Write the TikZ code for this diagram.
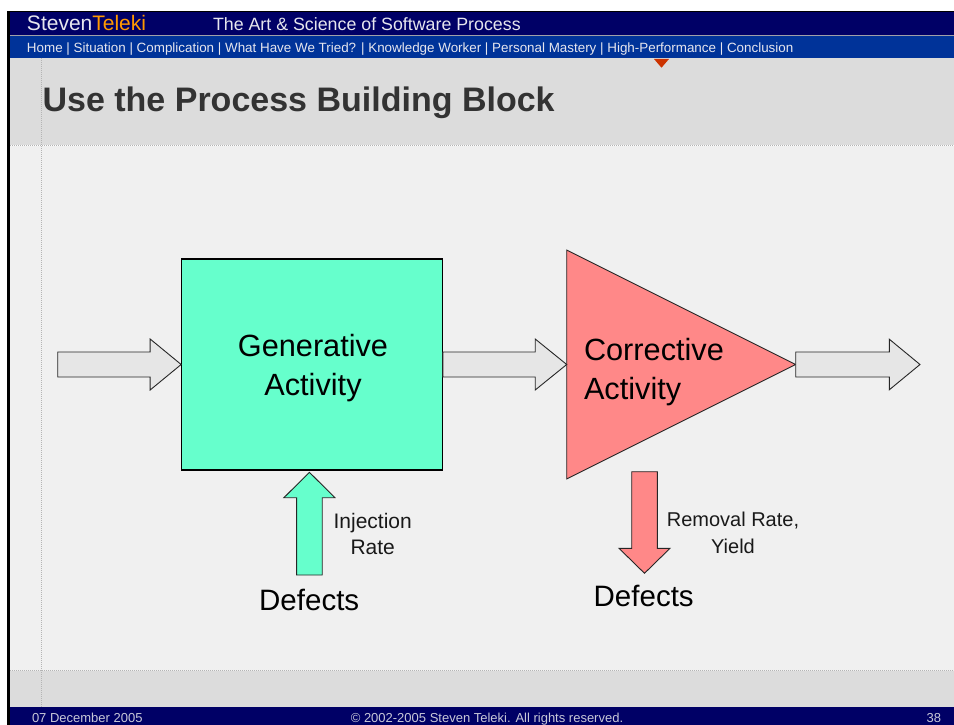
\documentclass[tikz,border=0pt]{standalone}
\usepackage{fontspec}
\setmainfont{Liberation Sans}
\usetikzlibrary{calc}
\definecolor{navy}{HTML}{000066}
\definecolor{navblue}{HTML}{003399}
\definecolor{titlegray}{HTML}{DCDCDC}
\definecolor{contentbg}{HTML}{F0F0F0}
\definecolor{dotgray}{HTML}{B4B4B4}
\definecolor{rulegray}{HTML}{A0A0A8}
\definecolor{arrowfill}{HTML}{E6E6E6}
\definecolor{genfill}{HTML}{66FFCC}
\definecolor{corfill}{HTML}{FF8888}
\definecolor{teleorange}{HTML}{FF9900}
\definecolor{markred}{HTML}{CC3300}
\definecolor{titletext}{HTML}{333333}
\definecolor{headtext}{HTML}{E6E6EE}
\definecolor{foottext}{HTML}{C8C8D8}
\newcommand\fsz[1]{\fontsize{#1}{#1}\selectfont}
\begin{document}
\begin{tikzpicture}[x=1pt,y=-1pt,
  lbl/.style={inner sep=0pt, outer sep=0pt},
  dotline/.style={draw=dotgray, line width=0.8pt, dash pattern=on 1pt off 1pt},
  barrow/.style n args={3}{draw=black!85, line width=0.9pt, line join=miter,
    to path={($(\tikztostart)!#1!90:(\tikztotarget)$)
      -- ($(\tikztotarget)!#3!(\tikztostart)!#1!90:(\tikztotarget)$)
      -- ($(\tikztotarget)!#3!(\tikztostart)!#2!90:(\tikztotarget)$)
      -- (\tikztotarget)
      -- ($(\tikztotarget)!#3!(\tikztostart)!#2!-90:(\tikztotarget)$)
      -- ($(\tikztotarget)!#3!(\tikztostart)!#1!-90:(\tikztotarget)$)
      -- ($(\tikztostart)!#1!-90:(\tikztotarget)$) -- cycle}},
  boxlbl/.style={lbl, font=\fsz{30.7}, text=black},
  smalllbl/.style={lbl, text=black!90},
]
\useasboundingbox (0,0) rectangle (954,725);
% page background
\fill[white] (0,0) rectangle (954,725);
\fill[black] (7,11) rectangle (10,725);
\fill[black] (7,11) rectangle (954,12.5);
\fill[navy] (10,12.5) rectangle (954,35);
\fill[rulegray] (10,35) rectangle (954,36.5);
\fill[navblue] (10,36.5) rectangle (954,58);
\fill[titlegray] (10,58) rectangle (954,145);
\fill[contentbg] (10,145.5) rectangle (954,670.5);
\fill[titlegray] (10,671) rectangle (954,707);
\fill[navy] (10,707) rectangle (954,725);
\draw[dotline] (10,145) -- (954,145);
\draw[dotline] (10,670.7) -- (954,670.7);
\draw[dotline] (41,58) -- (41,707);
% header texts
\node[lbl, anchor=base west, text=headtext] (brand) at (27,30.7)
  {\fsz{21}Steven\textcolor{teleorange}{Teleki}};
\node[lbl, anchor=base west, text=headtext] (tagline) at (213,30.7)
  {\fsz{17.8}The Art \& Science of Software Process};
\node[lbl, anchor=base west, text=headtext] (nav) at (27,52.3)
  {\fsz{13.4}Home | Situation | Complication | What Have We Tried? | Knowledge Worker | Personal Mastery | High-Performance | Conclusion};
\fill[markred] (654,59) -- (669,59) -- (661.5,67.7) -- cycle;
\node[lbl, anchor=base west, text=titletext] (title) at (42.6,111.7)
  {\fsz{34}\bfseries Use the Process Building Block};
% footer texts
\node[lbl, anchor=base west, text=foottext] (date) at (32,722.5) {\fsz{13}07 December 2005};
\node[lbl, anchor=base, text=foottext] (copy) at (487,722.5) {\fsz{13}© 2002-2005 Steven Teleki. All rights reserved.};
\node[lbl, anchor=base east, text=foottext] (page) at (941,722.5) {\fsz{13}38};
% diagram
\node[draw=black, line width=1.1pt, fill=genfill, minimum width=260.6pt, minimum height=211pt, inner sep=0pt] (gen) at (312,364.5) {};
\node[boxlbl, anchor=base] (gen1) at (313,356.3) {Generative};
\node[boxlbl, anchor=base] (gen2) at (313,395.5) {Activity};
\coordinate (corT) at (566.7,250);
\coordinate (corB) at (566.7,479);
\coordinate (corA) at (795.7,364.5);
\coordinate (corW) at (566.7,364.5);
\draw[draw=black!85, line width=0.9pt, fill=corfill] (corT) -- (corA) -- (corB) -- cycle;
\node[boxlbl, anchor=base west] (cor1) at (584,360.3) {Corrective};
\node[boxlbl, anchor=base west] (cor2) at (584,399.3) {Activity};
\coordinate (inS) at (57.7,364.5);
\coordinate (outE) at (920,364.5);
\draw[barrow={12.5pt}{25.5pt}{31pt}, fill=arrowfill] (inS) to (gen.west);
\draw[barrow={12.5pt}{25.5pt}{31.5pt}, fill=arrowfill] (gen.east) to (corW);
\draw[barrow={12.5pt}{25.3pt}{30.7pt}, fill=arrowfill] (corA) to (outE);
\coordinate (injS) at (309.4,575);
\coordinate (injT) at (309.4,472.3);
\draw[barrow={12.8pt}{25.5pt}{25.4pt}, fill=genfill] (injS) to (injT);
\coordinate (remS) at (644.5,471.7);
\coordinate (remT) at (644.5,573.3);
\draw[barrow={12.8pt}{25.5pt}{25pt}, fill=corfill] (remS) to (remT);
\node[smalllbl, anchor=base, font=\fsz{21}] (inj1) at (372.7,528.3) {Injection};
\node[smalllbl, anchor=base, font=\fsz{21}] (inj2) at (372.7,554) {Rate};
\node[smalllbl, anchor=base, font=\fsz{20}] (rem1) at (733,526) {Removal Rate,};
\node[smalllbl, anchor=base, font=\fsz{20}] (rem2) at (733,553.3) {Yield};
\node[lbl, anchor=base, font=\fsz{29.5}] (defL) at (309.2,610) {Defects};
\node[lbl, anchor=base, font=\fsz{29.5}] (defR) at (643.7,606.7) {Defects};
\end{tikzpicture}
\end{document}
